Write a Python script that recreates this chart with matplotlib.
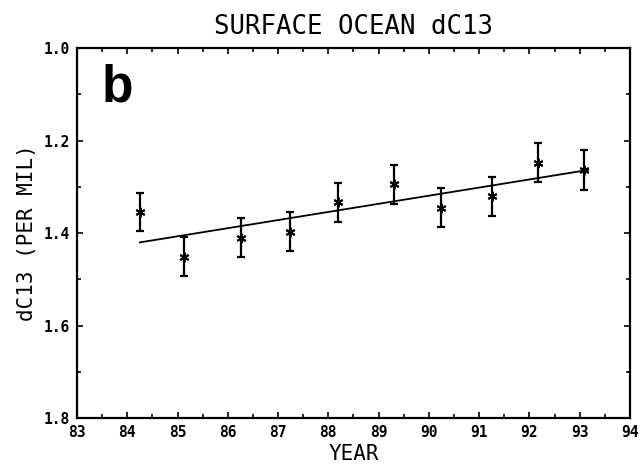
import numpy as np
import matplotlib
matplotlib.use('Agg')
import matplotlib.pyplot as plt
from matplotlib.ticker import MultipleLocator, FormatStrFormatter

# surface ocean dC13 yearly means
years = [84.25, 85.12, 86.26, 87.24, 88.19, 89.31, 90.24, 91.25, 92.18, 93.09]
dc13 = [1.354, 1.451, 1.410, 1.397, 1.334, 1.295, 1.345, 1.321, 1.248, 1.264]
dc13_err = [0.041, 0.043, 0.042, 0.042, 0.043, 0.043, 0.042, 0.043, 0.042, 0.043]

mono = 'DejaVu Sans Mono'

fig = plt.figure(figsize=(6.4, 4.68), dpi=100)
ax = fig.add_axes([0.1203, 0.1068, 0.864, 0.7906])

ax.errorbar(years, dc13, yerr=dc13_err, fmt='none', ecolor='black',
            elinewidth=1.6, capsize=3.2, capthick=1.6)
ax.plot(years, dc13, linestyle='none', marker=(6, 2, 0), markersize=7,
        markeredgewidth=1.4, color='black')

# linear trend
slope, icept = np.polyfit(years, dc13, 1)
xfit = np.array([min(years), max(years) + 0.08])
ax.plot(xfit, slope * xfit + icept, color='black', linewidth=1.3)

ax.set_xlim(83, 94)
ax.set_ylim(1.8, 1.0)
ax.xaxis.set_major_locator(MultipleLocator(1))
ax.xaxis.set_minor_locator(MultipleLocator(0.5))
ax.yaxis.set_major_locator(MultipleLocator(0.2))
ax.yaxis.set_minor_locator(MultipleLocator(0.1))
ax.yaxis.set_major_formatter(FormatStrFormatter('%.1f'))
ax.tick_params(which='both', direction='in', top=True, right=True,
               width=1.2, labelsize=10.5)
ax.tick_params(which='major', length=4.5)
ax.tick_params(which='minor', length=3)
ax.tick_params(axis='x', pad=5)
ax.tick_params(axis='y', pad=5)
for lab in ax.get_xticklabels() + ax.get_yticklabels():
    lab.set_family(mono)
    lab.set_fontweight('bold')
for sp in ax.spines.values():
    sp.set_linewidth(1.6)

ax.set_title('SURFACE OCEAN dC13', family=mono, fontsize=18.5, pad=10)
ax.set_xlabel('YEAR', family=mono, fontsize=15, labelpad=3)
ax.set_ylabel('dC13 (PER MIL)', family=mono, fontsize=15, labelpad=5)
ax.text(0.045, 0.958, 'b', transform=ax.transAxes, fontsize=37,
        fontweight='bold', family='Liberation Sans', va='top', ha='left')

plt.savefig('out.png', dpi=100)
